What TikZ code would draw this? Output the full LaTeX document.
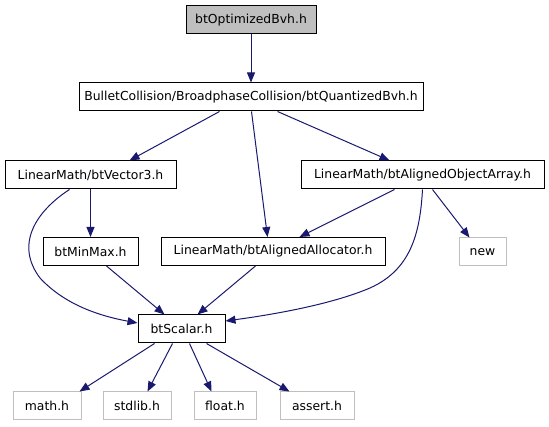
\documentclass[tikz,border=0pt]{standalone}
\usepackage{fontspec}
\setmainfont{DejaVu Sans}
\usetikzlibrary{arrows.meta}
\definecolor{edgeblue}{HTML}{191970}
\definecolor{grayline}{HTML}{BFBFBF}
\tikzset{
  box/.style={draw=black, line width=1pt, fill=white, inner sep=0pt, minimum height=28pt, font=\fontsize{12.4}{14}\selectfont},
  ext/.style={box, draw=grayline},
  cur/.style={box, fill=grayline},
  edge/.style={draw=edgeblue, line width=1pt, -{Triangle[length=10pt,width=8pt]}},
}
\begin{document}
\begin{tikzpicture}[x=1pt,y=-1pt]
\useasboundingbox (0,0) rectangle (549,427);
\node[cur, minimum width=130pt] (opt) at (251,20) {btOptimizedBvh.h};
\node[box, minimum width=344pt] (qbvh) at (251,97) {BulletCollision/BroadphaseCollision/btQuantizedBvh.h};
\node[box, minimum width=171pt] (vec3) at (90.5,175) {LinearMath/btVector3.h};
\node[box, minimum width=243pt] (aoa) at (422.5,175) {LinearMath/btAlignedObjectArray.h};
\node[box, minimum width=95pt] (minmax) at (90.5,251.5) {btMinMax.h};
\node[box, minimum width=224pt] (alloc) at (273,251.5) {LinearMath/btAlignedAllocator.h};
\node[ext, minimum width=47pt] (new) at (482.5,252) {new};
\node[box, minimum width=87pt] (scalar) at (181.5,329) {btScalar.h};
\node[ext, minimum width=68pt] (math) at (47,406) {math.h};
\node[ext, minimum width=68pt] (stdlib) at (137,406) {stdlib.h};
\node[ext, minimum width=62pt] (float) at (225,406) {float.h};
\node[ext, minimum width=74pt] (assert) at (317,406) {assert.h};

\draw[edge] (opt) -- (qbvh);
\draw[edge] ([xshift=141pt]qbvh.south west) -- ([xshift=125pt]vec3.north west);
\draw[edge] ([xshift=173pt]qbvh.south west) -- ([xshift=107pt]alloc.north west);
\draw[edge] ([xshift=199pt]qbvh.south west) -- ([xshift=89pt]aoa.north west);
\draw[edge] (vec3) -- (minmax);
\draw[edge] ([xshift=65pt]vec3.south west) .. controls (35,212) and (15,245) .. (40,278) .. controls (65,305) and (100,316) .. ([yshift=6pt]scalar.west);
\draw[edge] ([xshift=64pt]minmax.south west) -- ([xshift=27pt]scalar.north west);
\draw[edge] ([xshift=95pt]alloc.south west) -- ([xshift=60pt]scalar.north west);
\draw[edge] ([xshift=94pt]aoa.south west) -- ([xshift=139pt]alloc.north west);
\draw[edge] ([xshift=132pt]aoa.south west) -- ([xshift=11pt]new.north west);
\draw[edge] ([xshift=122pt]aoa.south west) .. controls (420,235) and (410,270) .. (370,288) .. controls (330,305) and (270,315) .. ([yshift=8pt]scalar.east);
\draw[edge] ([xshift=17pt]scalar.south west) -- ([xshift=67pt]math.north west);
\draw[edge] ([xshift=35pt]scalar.south west) -- ([xshift=45pt]stdlib.north west);
\draw[edge] ([xshift=52pt]scalar.south west) -- ([xshift=18pt]float.north west);
\draw[edge] ([xshift=69pt]scalar.south west) -- ([xshift=10pt]assert.north west);
\end{tikzpicture}
\end{document}
